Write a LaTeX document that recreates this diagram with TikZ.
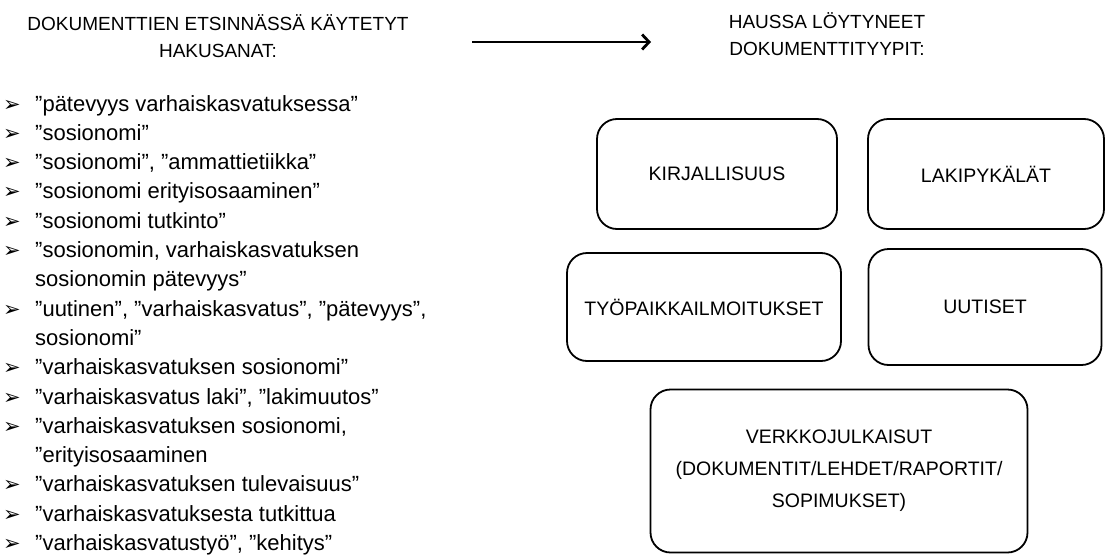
\documentclass[tikz,border=0pt]{standalone}
\usepackage{fontspec}
\setmainfont{Liberation Sans}
\newfontfamily\merkkifont{DejaVu Sans}
\usetikzlibrary{arrows.meta, positioning}

\tikzset{
  docbox/.style={draw, line width=1.8pt, rounded corners=20pt, align=center,
    font=\fontsize{19.5}{32}\selectfont},
  otsikko/.style={align=center, font=\fontsize{19}{27}\selectfont},
  rivi/.style={anchor=base west, inner sep=0pt, font=\fontsize{22}{24}\selectfont},
  merkki/.style={anchor=base west, inner sep=0pt, font=\merkkifont\fontsize{21}{22}\selectfont},
}

\begin{document}
\begin{tikzpicture}[x=1pt, y=-1pt]
\useasboundingbox (0,0) rectangle (1107,554);

% otsikot ja nuoli
\node[otsikko] (hakusanat) at (218,36) {DOKUMENTTIEN ETSINNÄSSÄ KÄYTETYT\\HAKUSANAT:};
\node[otsikko] (tyypit) at (827,34) {HAUSSA LÖYTYNEET\\DOKUMENTTITYYPIT:};
\coordinate (alku) at (472,42);
\coordinate (loppu) at (651,42);
\draw[line width=2.8pt, -{Straight Barb[length=7pt,width=15pt]}] (alku) -- (loppu);

% hakusanalista
\foreach \txt [count=\i from 0] in {
  {”pätevyys varhaiskasvatuksessa”},
  {”sosionomi”},
  {”sosionomi”, ”ammattietiikka”},
  {”sosionomi erityisosaaminen”},
  {”sosionomi tutkinto”},
  {”sosionomin, varhaiskasvatuksen},
  {sosionomin pätevyys”},
  {”uutinen”, ”varhaiskasvatus”, ”pätevyys”,},
  {sosionomi”},
  {”varhaiskasvatuksen sosionomi”},
  {”varhaiskasvatus laki”, ”lakimuutos”},
  {”varhaiskasvatuksen sosionomi,},
  {”erityisosaaminen},
  {”varhaiskasvatuksen tulevaisuus”},
  {”varhaiskasvatuksesta tutkittua},
  {”varhaiskasvatustyö”, ”kehitys”}}
  \node[rivi] (rivi\i) at (35, 111+29.3*\i) {\txt};
\foreach \i in {0,1,2,3,4,5,7,9,10,11,13,14,15}
  \node[merkki] (merkki\i) at (3, 111+29.3*\i) {➢};

% dokumenttityypit
\node[docbox, minimum width=240pt, minimum height=110pt] (kirjallisuus) at (717,174) {KIRJALLISUUS};
\node[docbox, minimum width=236pt, minimum height=110pt] (lakipykalat) at (986,174) {LAKIPYKÄLÄT};
\node[docbox, minimum width=274pt, minimum height=108pt] (ilmoitukset) at (704,307) {TYÖPAIKKAILMOITUKSET};
\node[docbox, minimum width=233pt, minimum height=116pt] (uutiset) at (985,307) {UUTISET};
\node[docbox, minimum width=377pt, minimum height=163pt] (verkko) at (839,471)
  {VERKKOJULKAISUT\\(DOKUMENTIT/LEHDET/RAPORTIT/\\SOPIMUKSET)};
\end{tikzpicture}
\end{document}
